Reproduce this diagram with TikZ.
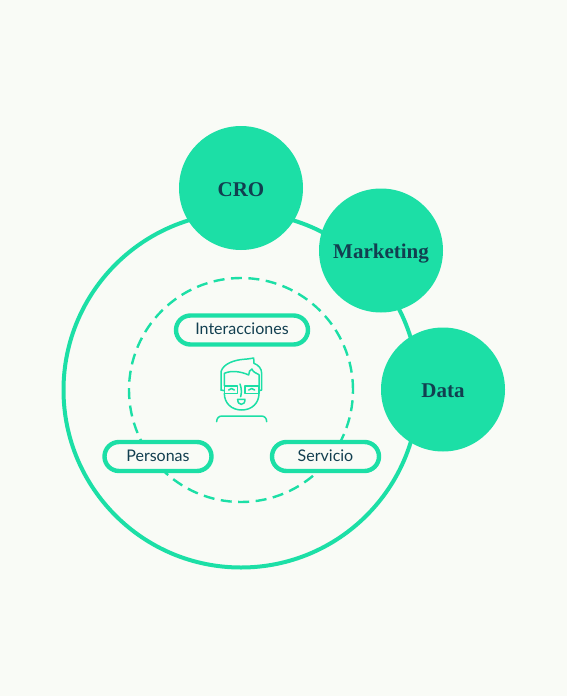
\documentclass[tikz,border=0pt]{standalone}
\usepackage{fontspec}
\setmainfont{Liberation Serif}
\setsansfont{Lato}
\usetikzlibrary{positioning}
\definecolor{paper}{HTML}{F9FBF6}
\definecolor{mint}{HTML}{1CDFA6}
\definecolor{ink}{HTML}{123F50}

\begin{document}
\begin{tikzpicture}[
      x=1pt, y=-1pt,
      ring/.style={draw=mint, circle, inner sep=0pt, minimum size=#1},
      disc/.style={fill=mint, circle, inner sep=0pt, minimum size=124pt, text=ink,
                   text height=16pt, text depth=0pt,
                   font=\rmfamily\bfseries\fontsize{21}{24}\selectfont},
      pill/.style={draw=mint, fill=paper, line width=4.4pt, rounded corners=14.5pt, text=ink,
                   minimum width=#1, minimum height=29pt, inner sep=0pt,
                   text height=9pt, text depth=0pt,
                   font=\sffamily\fontsize{16}{18}\selectfont},
      face/.style={draw=mint, line width=1.5pt, line cap=round, line join=round},
    ]
    \fill[paper] (0,0) rectangle (567,696);

    \node[ring=355pt, line width=4pt] (outer) at (241,390) {};
    \node[ring=224pt, line width=2.4pt, dash pattern=on 11pt off 6.5pt] (inner) at (241,390) {};

    \node[pill=132pt] (inter) at (242,330) {Interacciones};
    \node[pill=107pt] (pers)  at (158,456.5) {Personas};
    \node[pill=107pt] (serv)  at (325.5,456.5) {Servicio};

    \node[disc] (cro)  at (241,188) {CRO};
    \node[disc] (mark) at (381,250.5) {Marketing};
    \node[disc] (data) at (443,389.5) {Data};

    % person
    \begin{scope}[xshift=190pt, yshift=-340pt, scale=1/3]
      \draw[face] (93,150) -- (93,95) .. controls (100,70) and (135,60) .. (160,58)
        .. controls (175,57) and (185,55) .. (191,54) -- (192,70)
        .. controls (205,75) and (215,85) .. (215,100) -- (215,150) -- (207,152);
      \draw[face] (93,150) -- (103,152);
      \draw[face] (103,137) -- (103,100) .. controls (125,90) and (155,95) .. (176,105)
        .. controls (176,95) and (180,90) .. (186,87) .. controls (188,95) and (198,100) .. (207,104) -- (207,137);
      \draw[face] (103,160) .. controls (103,190) and (125,210) .. (155,210)
        .. controls (185,210) and (207,190) .. (207,160);
      \draw[face] (103,138) -- (143,138) -- (143,160) -- (103,160) -- cycle;
      \draw[face] (165,138) -- (207,138) -- (207,160) -- (165,160) -- cycle;
      \draw[face] (116,150) .. controls (120,144) and (128,144) .. (133,150);
      \draw[face] (176,150) .. controls (181,144) and (189,144) .. (194,150);
      \draw[face] (150,132) .. controls (155,145) and (155,160) .. (152,170);
      \draw[face] (143,178) -- (165,178) .. controls (165,188) and (160,193) .. (154,193)
        .. controls (148,193) and (143,188) .. (143,178) -- cycle;
      \draw[face] (80,245) .. controls (80,235) and (86,228) .. (96,228) -- (214,228)
        .. controls (224,228) and (230,235) .. (230,245);
    \end{scope}
\end{tikzpicture}
\end{document}
